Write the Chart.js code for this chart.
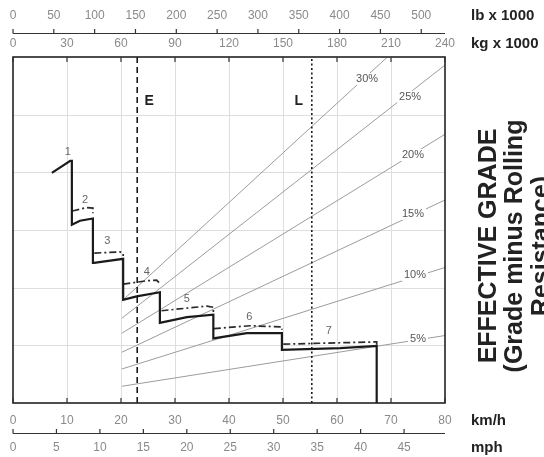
<!DOCTYPE html>
<html><head><meta charset="utf-8">
<script src="https://cdn.jsdelivr.net/npm/chart.js@4.4.1/dist/chart.umd.min.js"></script>
<style>html,body{margin:0;padding:0;background:#fff;}canvas{display:block;}</style>
</head><body>
<canvas id="c" width="544" height="457"></canvas>
<script>
// ---- tick labels ----
const kmhTicks = [0,10,20,30,40,50,60,70,80];
const mphTicks = [0,5,10,15,20,25,30,35,40,45];
const kgTicks  = [0,30,60,90,120,150,180,210,240];
const lbTicks  = [0,50,100,150,200,250,300,350,400,450,500];
const rimpullGrid = [10,20,30,40,50];

// ---- rimpull curve (speed km/h, rimpull) solid ----
const rimpullSolid = [
  {x:7.2,y:39.9},{x:10.6,y:42.0},{x:10.9,y:42.0},{x:10.9,y:30.9},
  {x:12.4,y:31.6},{x:14.8,y:32.0},{x:14.8,y:24.3},
  {x:15.0,y:24.3},{x:20.4,y:25.0},{x:20.4,y:17.9},
  {x:22.9,y:18.5},{x:27.2,y:19.2},{x:27.2,y:13.9},
  {x:32.2,y:14.9},{x:37.1,y:15.3},{x:37.1,y:11.2},
  {x:43.3,y:12.1},{x:49.8,y:12.1},{x:49.8,y:9.2},
  {x:60.6,y:9.5},{x:67.35,y:9.9},{x:67.35,y:0}
];
// ---- dash-dot curve, one run per gear, null = gap ----
const rimpullDashDot = [
  {x:11.0,y:33.3},{x:13.65,y:33.9},{x:14.8,y:33.8},{x:14.8,y:32.9},{x:14.9,y:null},
  {x:15.06,y:26.0},{x:19.8,y:26.2},{x:20.4,y:26.0},{x:20.4,y:25.5},{x:20.42,y:null},
  {x:20.43,y:20.6},{x:24.76,y:21.2},{x:26.6,y:21.3},{x:27.4,y:20.5},{x:27.45,y:null},
  {x:27.5,y:16.0},{x:35.9,y:16.8},{x:37.1,y:16.6},{x:37.1,y:15.8},{x:37.15,y:null},
  {x:37.2,y:12.9},{x:43.9,y:13.4},{x:49.8,y:13.2},{x:49.8,y:12.7},{x:49.9,y:null},
  {x:50.05,y:10.2},{x:67.35,y:10.6},{x:67.35,y:10.1}
];
const gearNames = ['1','2','3','4','5','6','7'];
const gearLabelKmh = [10.13,13.33,17.46,24.76,32.2,43.76,58.5];
const gearLabelRim = [43.6,35.2,28.1,22.8,18.0,14.9,12.5];

// ---- effective grade lines (gross weight kg x1000, rimpull) ----
const gradeNames = ['5%','10%','15%','20%','25%','30%'];
const gradeStartKg = [60.5,60.5,60.5,60.5,60.5,60.5];
const gradeStartRim = [2.9,5.9,8.8,12.1,14.7,17.7];
const gradeEndKg = [240,240,240,240,240,208];
const gradeEndRim = [11.7,23.5,35.2,46.6,58.6,60];
const gradeLabelKg = [225,223.3,222.2,222.2,220.6,196.7];
const gradeLabelRim = [11.1,22.2,32.8,43.0,53.1,56.2];

// ---- empty / loaded weight markers (kg x1000) ----
const markerNames = ['E','L'];
const markerKg = [69,166];

const gradeSets = gradeNames.map((g,i)=>({
  label:g, xAxisID:'xkg', yAxisID:'y',
  data:[{x:gradeStartKg[i],y:gradeStartRim[i]},{x:gradeEndKg[i],y:gradeEndRim[i]}],
  borderColor:'#9c9c9c', borderWidth:1, pointRadius:0, tension:0
}));

const datasets = [
  {label:'rimpull', xAxisID:'x', yAxisID:'y', data:rimpullSolid, borderColor:'#1a1a1a', borderWidth:2.2, pointRadius:0, tension:0},
  {label:'alt', xAxisID:'x', yAxisID:'y', data:rimpullDashDot, borderColor:'#2a2a2a', borderWidth:1.7, borderDash:[7,3,2,3], pointRadius:0, tension:0, spanGaps:false},
  {label:'E', xAxisID:'xkg', yAxisID:'y', data:[{x:markerKg[0],y:0},{x:markerKg[0],y:60}], borderColor:'#1a1a1a', borderWidth:1.6, borderDash:[6,4], pointRadius:0},
  {label:'L', xAxisID:'xkg', yAxisID:'y', data:[{x:markerKg[1],y:0},{x:markerKg[1],y:60}], borderColor:'#1a1a1a', borderWidth:1.6, borderDash:[2,2.5], pointRadius:0},
  ...gradeSets
];

const FONT = '"Liberation Sans", Arial, sans-serif';

const deco = {
  id:'deco',
  beforeDatasetsDraw(chart){
    const {ctx, chartArea:a, scales:s} = chart;
    ctx.save();
    ctx.strokeStyle = '#dedede'; ctx.lineWidth = 1;
    ctx.beginPath();
    kmhTicks.forEach(v=>{ if(v>0 && v<80){ const x=Math.round(s.x.getPixelForValue(v))+0.5; ctx.moveTo(x,a.top); ctx.lineTo(x,a.bottom);} });
    rimpullGrid.forEach(v=>{ const y=Math.round(s.y.getPixelForValue(v))+0.5; ctx.moveTo(a.left,y); ctx.lineTo(a.right,y); });
    ctx.stroke();
    ctx.restore();
  },
  afterDatasetsDraw(chart){
    const {ctx, chartArea:a, scales:s} = chart;
    ctx.save();
    // grade labels with white background
    ctx.font = '11px '+FONT; ctx.textAlign='center'; ctx.textBaseline='middle';
    gradeNames.forEach((g,i)=>{
      const x=s.xkg.getPixelForValue(gradeLabelKg[i]), y=s.y.getPixelForValue(gradeLabelRim[i]);
      const w=ctx.measureText(g).width+4;
      ctx.fillStyle='#fff'; ctx.fillRect(x-w/2,y-6,w,12);
      ctx.fillStyle='#555'; ctx.fillText(g,x,y);
    });
    // gear labels
    ctx.fillStyle='#666'; ctx.font='11px '+FONT;
    gearNames.forEach((g,i)=>{
      ctx.fillText(g, s.x.getPixelForValue(gearLabelKmh[i]), s.y.getPixelForValue(gearLabelRim[i]));
    });
    // E / L labels
    ctx.fillStyle='#222'; ctx.font='bold 14px '+FONT;
    ctx.fillText(markerNames[0], s.xkg.getPixelForValue(markerKg[0])+12, s.y.getPixelForValue(52.4));
    ctx.fillText(markerNames[1], s.xkg.getPixelForValue(markerKg[1])-13, s.y.getPixelForValue(52.4));

    // plot border
    ctx.strokeStyle='#222'; ctx.lineWidth=1.6;
    ctx.strokeRect(a.left, a.top, a.right-a.left, a.bottom-a.top);
    ctx.lineWidth=1.2; ctx.strokeStyle='#333';
    ctx.beginPath();
    kgTicks.forEach(v=>{ const x=s.xkg.getPixelForValue(v); ctx.moveTo(x,a.top); ctx.lineTo(x,a.top+5); });
    kmhTicks.forEach(v=>{ const x=s.x.getPixelForValue(v); ctx.moveTo(x,a.bottom); ctx.lineTo(x,a.bottom-5); });
    // upper lb axis
    const yLb = 33.5;
    ctx.moveTo(a.left,yLb); ctx.lineTo(a.right,yLb);
    lbTicks.forEach(v=>{ const x=s.xlb.getPixelForValue(v); ctx.moveTo(x,yLb); ctx.lineTo(x,yLb-4.5); });
    // lower mph axis
    const yMph = 433.5;
    ctx.moveTo(a.left,yMph); ctx.lineTo(a.right,yMph);
    mphTicks.forEach(v=>{ const x=s.xmph.getPixelForValue(v); ctx.moveTo(x,yMph); ctx.lineTo(x,yMph-4.5); });
    ctx.stroke();

    // tick labels
    ctx.fillStyle='#8a8a8a'; ctx.font='12px '+FONT; ctx.textAlign='center'; ctx.textBaseline='middle';
    lbTicks.forEach(v=>ctx.fillText(String(v), s.xlb.getPixelForValue(v), 16));
    kgTicks.forEach(v=>ctx.fillText(String(v), s.xkg.getPixelForValue(v), 44));
    kmhTicks.forEach(v=>ctx.fillText(String(v), s.x.getPixelForValue(v), 421));
    mphTicks.forEach(v=>ctx.fillText(String(v), s.xmph.getPixelForValue(v), 448));

    // unit labels
    ctx.fillStyle='#222'; ctx.font='bold 15px '+FONT; ctx.textAlign='left';
    ctx.fillText('lb x 1000', 471, 16);
    ctx.fillText('kg x 1000', 471, 44);
    ctx.fillText('km/h', 471, 421);
    ctx.fillText('mph', 471, 448);

    // vertical title
    ctx.font='bold 25px '+FONT; ctx.textAlign='center'; ctx.textBaseline='middle';
    const lines=['EFFECTIVE GRADE','(Grade minus Rolling','Resistance)'];
    const xs=[489,515,542];
    lines.forEach((t,i)=>{
      ctx.save(); ctx.translate(xs[i],246); ctx.rotate(-Math.PI/2); ctx.fillText(t,0,0); ctx.restore();
    });
    ctx.restore();
  }
};

new Chart(document.getElementById('c'), {
  type:'line',
  data:{datasets},
  options:{
    responsive:false, animation:false, parsing:true,
    layout:{padding:{left:13, top:57, right:99, bottom:54}},
    plugins:{legend:{display:false}, tooltip:{enabled:false}},
    scales:{
      x:{type:'linear', min:0, max:80, display:false},
      xkg:{type:'linear', axis:'x', min:0, max:240, display:false},
      xmph:{type:'linear', axis:'x', min:0, max:80/1.609344, display:false},
      xlb:{type:'linear', axis:'x', min:0, max:240*2.2046226, display:false},
      y:{type:'linear', min:0, max:60, display:false}
    }
  },
  plugins:[deco]
});
</script>
</body></html>
